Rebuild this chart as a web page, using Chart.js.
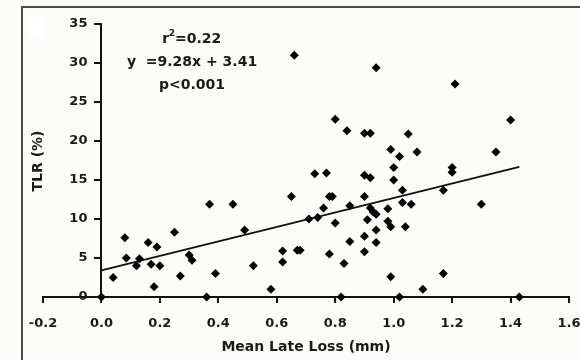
<!DOCTYPE html>
<html lang="en">
<head>
  <meta charset="UTF-8">
  <title>TLR vs Mean Late Loss</title>
  <script src="https://cdn.jsdelivr.net/npm/chart.js"></script>
  <style>
    html, body { margin: 0; padding: 0; background: #fcfcf8; }
  </style>
</head>
<body>
  <canvas id="grafico" width="580" height="360"></canvas>

  <script>
    // Dados (Mean Late Loss em mm, TLR em %)
    const lateLoss = [
      0.00, 0.04, 0.08, 0.085, 0.12, 0.13, 0.16, 0.17, 0.19, 0.20,
      0.18, 0.25, 0.27, 0.30, 0.31, 0.37, 0.39, 0.36, 0.45, 0.49,
      0.52, 0.58, 0.62, 0.62, 0.65, 0.66, 0.67, 0.68, 0.71, 0.73,
      0.74, 0.76, 0.77, 0.78, 0.78, 0.79, 0.80, 0.80, 0.82, 0.83,
      0.84, 0.85, 0.85, 0.90, 0.92, 0.90, 0.92, 0.90, 0.91, 0.90,
      0.90, 0.92, 0.93, 0.94, 0.94, 0.94, 0.94, 0.98, 0.98, 0.99,
      0.99, 1.00, 1.00, 0.99, 1.02, 1.03, 1.03, 1.02, 1.04, 1.05,
      1.06, 1.08, 1.10, 1.17, 1.17, 1.20, 1.20, 1.21, 1.30, 1.35,
      1.40, 1.43
    ];
    const tlr = [
      0.0, 2.5, 7.6, 5.0, 4.0, 4.9, 7.0, 4.2, 6.4, 4.0,
      1.3, 8.3, 2.7, 5.4, 4.7, 11.9, 3.0, 0.0, 11.9, 8.6,
      4.0, 1.0, 5.9, 4.5, 12.9, 31.0, 6.0, 6.0, 10.0, 15.8,
      10.2, 11.4, 15.9, 5.5, 12.9, 12.9, 22.8, 9.5, 0.0, 4.3,
      21.3, 11.7, 7.1, 21.0, 21.0, 15.6, 15.3, 12.9, 9.9, 7.8,
      5.8, 11.4, 10.9, 10.6, 8.6, 7.0, 29.4, 11.3, 9.7, 9.0,
      18.9, 16.6, 15.0, 2.6, 18.0, 13.7, 12.1, 0.0, 9.0, 20.9,
      11.9, 18.6, 1.0, 13.7, 3.0, 16.6, 16.0, 27.3, 11.9, 18.6,
      22.7, 0.0
    ];

    // Reta de regressão y = 9.28x + 3.41 (extremos)
    const fitX = [0, 1.43];
    const fitY = [3.41, 16.68];

    // Textos do gráfico
    const xTitle = "Mean Late Loss (mm)";
    const yTitle = "TLR (%)";
    const statsText = ["=0.22", "y  =9.28x + 3.41", "p<0.001"];

    const corTexto = "#1a1a1a";
    const fonte = "DejaVu Sans";

    // Plugin: fundo, moldura, rótulos e título do eixo y, estatísticas
    const extras = {
      id: "extras",
      beforeDraw(chart) {
        const ctx = chart.ctx;
        ctx.save();
        ctx.fillStyle = "#fcfcf8";
        ctx.fillRect(0, 0, chart.width, chart.height);
        ctx.fillStyle = "#ffffff";
        ctx.fillRect(28, 17, 17, 20);
        ctx.fillStyle = "#4a4a4a";
        ctx.fillRect(21, 6, chart.width - 21, 2);
        ctx.fillRect(21, 6, 2, chart.height - 6);
        ctx.restore();
      },
      afterDraw(chart) {
        const ctx = chart.ctx;
        const sy = chart.scales.y;
        const eixoX = chart.scales.x.getPixelForValue(0);
        ctx.save();
        ctx.fillStyle = corTexto;
        ctx.textBaseline = "middle";

        // rótulos do eixo y (o eixo fica em x = 0)
        ctx.font = "bold 13px '" + fonte + "'";
        ctx.textAlign = "right";
        sy.ticks.forEach(t => {
          ctx.fillText(String(t.value), eixoX - 14, sy.getPixelForValue(t.value));
        });

        // título do eixo y
        ctx.font = "bold 14px '" + fonte + "'";
        ctx.textAlign = "center";
        ctx.save();
        ctx.translate(38, 161);
        ctx.rotate(-Math.PI / 2);
        ctx.fillText(yTitle, 0, 0);
        ctx.restore();

        // estatísticas da regressão
        const cx = chart.scales.x.getPixelForValue(0.31);
        ctx.font = "bold 14px '" + fonte + "'";
        const wr = ctx.measureText("r").width;
        const we = ctx.measureText(statsText[0]).width;
        ctx.font = "bold 9px '" + fonte + "'";
        const w2 = ctx.measureText("2").width;
        let x0 = cx - (wr + w2 + we) / 2;
        ctx.textAlign = "left";
        ctx.font = "bold 14px '" + fonte + "'";
        ctx.fillText("r", x0, 39);
        ctx.font = "bold 9px '" + fonte + "'";
        ctx.fillText("2", x0 + wr - 0.5, 34);
        ctx.font = "bold 14px '" + fonte + "'";
        ctx.fillText(statsText[0], x0 + wr + w2 - 0.5, 39);
        ctx.textAlign = "center";
        ctx.fillText(statsText[1], cx, 62);
        ctx.fillText(statsText[2], cx, 85);
        ctx.restore();
      }
    };

    const pontos = lateLoss.map((x, i) => ({ x: x, y: tlr[i] }));
    const reta = fitX.map((x, i) => ({ x: x, y: fitY[i] }));

    const fonteTicks = { family: fonte, size: 13, weight: "bold" };
    const eixoGrid = { display: true, drawOnChartArea: false, drawTicks: true, tickLength: 6, color: "#111", lineWidth: 2 };
    const eixoBorda = { display: true, color: "#111", width: 2 };

    new Chart(document.getElementById("grafico").getContext("2d"), {
      type: "scatter",
      data: {
        datasets: [
          {
            data: pontos,
            pointStyle: "rectRot",
            pointRadius: 4.5,
            backgroundColor: "#000",
            borderColor: "#000",
            borderWidth: 0,
            clip: false
          },
          {
            data: reta,
            showLine: true,
            borderColor: "#111",
            borderWidth: 2,
            pointRadius: 0,
            fill: false,
            clip: false
          }
        ]
      },
      options: {
        responsive: false,
        animation: false,
        layout: { padding: { left: 43, right: 11, top: 24, bottom: 0 } },
        plugins: {
          legend: { display: false },
          tooltip: { enabled: false }
        },
        scales: {
          x: {
            type: "linear",
            min: -0.2,
            max: 1.6,
            ticks: {
              stepSize: 0.2,
              autoSkip: false,
              maxRotation: 0,
              padding: 13,
              color: corTexto,
              font: fonteTicks,
              callback: v => (Math.abs(v) < 1e-9 ? 0 : v).toFixed(1)
            },
            grid: eixoGrid,
            border: eixoBorda,
            title: {
              display: true,
              text: xTitle,
              color: corTexto,
              font: { family: fonte, size: 14, weight: "bold" },
              padding: { top: 4, bottom: 4 }
            },
            afterFit(scale) {
              scale.paddingLeft = 0;
              scale.paddingRight = 0;
              scale.height = 63;
            }
          },
          y: {
            type: "linear",
            min: 0,
            max: 35,
            position: { x: 0 },
            ticks: {
              stepSize: 5,
              display: false,
              font: fonteTicks
            },
            grid: eixoGrid,
            border: eixoBorda
          }
        }
      },
      plugins: [extras]
    });
  </script>
</body>
</html>
